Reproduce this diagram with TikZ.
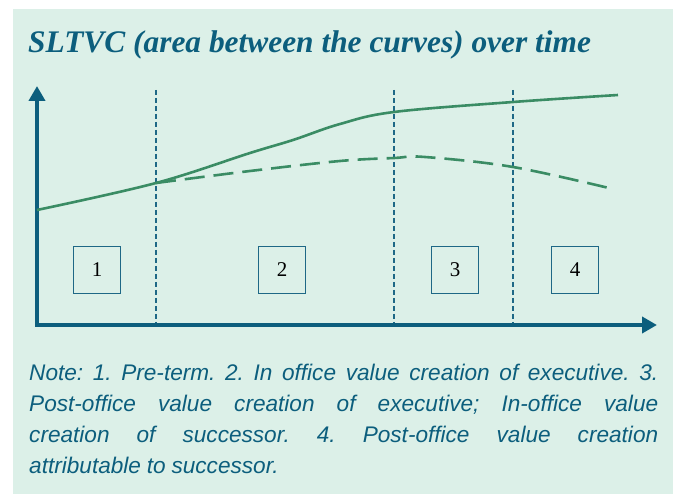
\documentclass[tikz,border=0pt]{standalone}
\usepackage{fontspec}
\setmainfont{Liberation Serif}
\newfontfamily\notefont{Liberation Sans}
\usetikzlibrary{arrows.meta}
\definecolor{panelbg}{RGB}{220,240,232}
\definecolor{tealink}{RGB}{12,94,125}
\definecolor{curvegreen}{RGB}{58,140,100}
\definecolor{periodline}{RGB}{30,104,134}

\begin{document}
\begin{tikzpicture}[x=1pt,y=-1pt,
    axis/.style={line width=4pt,draw=tealink,line join=miter,
      {Triangle[length=15pt,width=16pt]}-{Triangle[length=15pt,width=16pt]}},
    curve/.style={line width=2.6pt,draw=curvegreen},
    divider/.style={line width=1.3pt,draw=periodline,dash pattern=on 5pt off 3pt},
    periodbox/.style={draw=periodline,line width=1.2pt,minimum size=47pt,inner sep=0pt,
      font=\fontsize{21}{21}\selectfont}]
  \useasboundingbox (0,0) rectangle (675,494);
  \fill[panelbg] (13,9) rectangle (673,494);

  % title
  \node[anchor=base west,inner sep=0pt,text=tealink,
    font=\fontsize{31.4}{36}\selectfont\bfseries\itshape] (title) at (28,53)
    {SLTVC (area between the curves) over time};

  % axes
  \coordinate (O) at (37,325);
  \coordinate (ytip) at (37,86);
  \coordinate (xtip) at (657,325);

  % period dividers
  \foreach \x in {156,394,513}{
    \draw[divider] (\x,90) -- (\x,325);
  }
  \draw[axis] (ytip) -- (O) -- (xtip);

  % curves
  \draw[curve] plot[smooth,tension=0.6] coordinates
    {(37,210) (156,183) (250,153) (293,140) (340,124) (394,112) (513,102) (618,95)};
  \draw[curve,dash pattern=on 20pt off 9pt] plot[smooth,tension=0.6] coordinates
    {(156,183) (250,171) (340,161) (394,158) (425,157) (513,167) (613,189)};

  % periods
  \foreach \x/\n in {97/1,282/2,455/3,575/4}{
    \node[periodbox] (p\n) at (\x,270) {\n};
  }

  % note
  \node[anchor=north west,inner sep=0pt,text width=629pt,align=justify,text=tealink,
    font=\notefont\itshape\fontsize{22.6}{31}\selectfont\frenchspacing] (note) at (29,364)
    {\spaceskip=0.26em plus 0.4em minus 0.08em\relax
     Note: 1. Pre-term. 2. In office value creation of executive. 3.\linebreak
     Post-office value creation of executive; In-office value\linebreak
     creation of successor. 4. Post-office value creation\linebreak
     attributable to successor.};
\end{tikzpicture}
\end{document}
